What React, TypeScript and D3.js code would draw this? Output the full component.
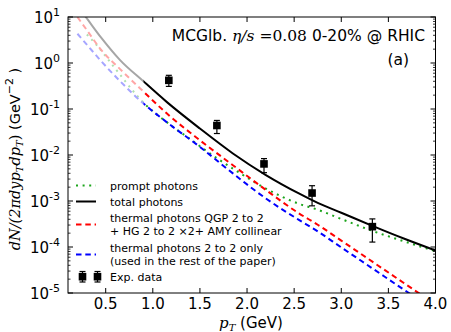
import React from 'react';
import * as d3 from 'd3';

const W = 451;
const H = 332;

// transverse momentum grid (GeV) for the model curves
const gridPT = [0.2, 0.3, 0.45, 0.65, 0.9, 1.15, 1.5, 1.85, 2.2, 2.55, 2.75, 3.0, 3.33, 3.67, 4.0];
const totalPhotons = [17.4, 9.3, 3.6, 1.17, 0.40, 0.141, 0.0376, 0.0108, 0.00367, 0.00146, 9.1e-4, 5.56e-4, 2.88e-4, 1.51e-4, 8.4e-5];
const thermalFull = [10, 5.2, 1.95, 0.745, 0.24, 0.0794, 0.0209, 6.0e-3, 1.74e-3, 5.4e-4, 3.05e-4, 1.38e-4, 4.8e-5, 1.62e-5, 5.6e-6];
const thermal2to2 = [4.32, 2.51, 1.11, 0.408, 0.132, 0.0513, 0.0150, 3.98e-3, 1.135e-3, 3.89e-4, 2.19e-4, 9.8e-5, 3.43e-5, 1.16e-5, 4.1e-6];

const promptPT = [0.3, 0.4, 0.59, 0.9, 1.15, 1.4, 1.62, 1.86, 2.2, 2.55, 2.75, 3.0, 3.33, 3.67, 4.0];
const promptPhotons = [4.17, 2.51, 0.81, 0.138, 0.0513, 0.0219, 0.01035, 4.9e-3, 1.86e-3, 8.7e-4, 6.46e-4, 4.07e-4, 2.24e-4, 1.32e-4, 8.1e-5];

// experimental data
const expPT = [1.17, 1.68, 2.18, 2.69, 3.33];
const expVal = [0.42, 0.0438, 0.0064, 0.00149, 2.77e-4];
const expHi = [0.54, 0.0564, 0.00834, 0.00215, 4.08e-4];
const expLo = [0.31, 0.0293, 0.00413, 7.85e-4, 1.28e-4];

const xTicks = [0.5, 1.0, 1.5, 2.0, 2.5, 3.0, 3.5, 4.0];
const yTickExps = [-5, -4, -3, -2, -1, 0, 1];
const fadeBelow = 0.9;

const L = 68, R = 435.5, T = 17, B = 293;
const SANS = 'DejaVu Sans, sans-serif';
const SERIF = 'DejaVu Serif, serif';
const GREEN = '#1ca51c';
const DOT = '2 4.6';
const DASH = '5.5 3.8';

export default function App() {
  const x = d3.scaleLinear().domain([0.1, 4.0]).range([L, R]);
  const y = d3.scaleLog().domain([1e-5, 10]).range([B, T]);
  const mk = (xs: number[], ys: number[]) =>
    d3.line<number>().x((_, i) => x(xs[i])).y((d) => y(d)).curve(d3.curveMonotoneX)(ys) || '';

  const xf = x(fadeBelow);
  const series = [
    { d: mk(promptPT, promptPhotons), color: GREEN, dash: DOT },
    { d: mk(gridPT, totalPhotons), color: '#000000', dash: '' },
    { d: mk(gridPT, thermalFull), color: '#ff0000', dash: DASH },
    { d: mk(gridPT, thermal2to2), color: '#0000ff', dash: DASH },
  ];

  const minor: number[] = [];
  for (let k = -5; k <= 0; k++) for (let m = 2; m <= 9; m++) minor.push(m * Math.pow(10, k));

  const legendRows = [
    { y: 185.5, color: GREEN, dash: DOT, lines: ['prompt photons'] },
    { y: 201.5, color: '#000000', dash: '', lines: ['total photons'] },
    { y: 224.5, color: '#ff0000', dash: DASH, lines: ['thermal photons QGP 2 to 2', '+ HG 2 to 2 \u00d72+ AMY collinear'] },
    { y: 254.5, color: '#0000ff', dash: DASH, lines: ['thermal photons 2 to 2 only', '(used in the rest of the paper)'] },
  ];

  const errMarker = (cx: number, cy: number, yt: number, yb: number, key: string) => (
    <g key={key}>
      <line x1={cx} x2={cx} y1={yt} y2={yb} stroke="#000" strokeWidth={1.2} />
      <line x1={cx - 3} x2={cx + 3} y1={yt} y2={yt} stroke="#000" strokeWidth={1.2} />
      <line x1={cx - 3} x2={cx + 3} y1={yb} y2={yb} stroke="#000" strokeWidth={1.2} />
      <rect x={cx - 3.8} y={cy - 3.8} width={7.6} height={7.6} fill="#000" />
    </g>
  );

  return (
    <svg width={W} height={H} style={{ position: 'absolute', left: 0, top: 0, background: '#fff' }}>
      <defs>
        <clipPath id="plot"><rect x={L} y={T} width={R - L} height={B - T} /></clipPath>
        <clipPath id="faded"><rect x={L} y={T} width={xf - L} height={B - T} /></clipPath>
        <clipPath id="solid"><rect x={xf} y={T} width={R - xf} height={B - T} /></clipPath>
      </defs>
      <rect x={0} y={0} width={W} height={H} fill="#fff" />

      {/* curves */}
      <g clipPath="url(#plot)">
        <g clipPath="url(#faded)" opacity={0.35}>
          {series.map((s, i) => (
            <path key={'f' + i} d={s.d} fill="none" stroke={s.color} strokeWidth={2} strokeDasharray={s.dash || undefined} />
          ))}
        </g>
        <g clipPath="url(#solid)">
          {series.map((s, i) => (
            <path key={'s' + i} d={s.d} fill="none" stroke={s.color} strokeWidth={2} strokeDasharray={s.dash || undefined} />
          ))}
        </g>
      </g>

      {/* data */}
      {expPT.map((p, i) => errMarker(x(p), y(expVal[i]), y(expHi[i]), y(expLo[i]), 'e' + i))}

      {/* frame */}
      <rect x={L} y={T} width={R - L} height={B - T} fill="none" stroke="#000" strokeWidth={1} />

      {/* x ticks */}
      {xTicks.map((t) => (
        <g key={'xt' + t}>
          <line x1={x(t)} x2={x(t)} y1={B} y2={B - 5} stroke="#000" />
          <line x1={x(t)} x2={x(t)} y1={T} y2={T + 5} stroke="#000" />
          <text x={x(t)} y={309} fontSize={15} fontFamily={SANS} textAnchor="middle">{t.toFixed(1)}</text>
        </g>
      ))}

      {/* y ticks */}
      {yTickExps.map((e) => (
        <g key={'yt' + e}>
          <line x1={L} x2={L + 5} y1={y(Math.pow(10, e))} y2={y(Math.pow(10, e))} stroke="#000" />
          <line x1={R} x2={R - 5} y1={y(Math.pow(10, e))} y2={y(Math.pow(10, e))} stroke="#000" />
          <text x={60} y={y(Math.pow(10, e)) + 6} fontSize={15} fontFamily={SANS} textAnchor="end">
            10<tspan dy={-7} fontSize={11}>{e}</tspan>
          </text>
        </g>
      ))}
      {minor.map((v, i) => (
        <g key={'mn' + i}>
          <line x1={L} x2={L + 2.5} y1={y(v)} y2={y(v)} stroke="#000" strokeWidth={0.8} />
          <line x1={R} x2={R - 2.5} y1={y(v)} y2={y(v)} stroke="#000" strokeWidth={0.8} />
        </g>
      ))}

      {/* axis labels */}
      <text x={251} y={328} fontSize={15} textAnchor="middle">
        <tspan fontFamily={SERIF} fontStyle="italic">p</tspan>
        <tspan fontFamily={SERIF} fontStyle="italic" fontSize={10} dy={3}>T</tspan>
        <tspan fontFamily={SANS} dy={-3}> (GeV)</tspan>
      </text>
      <text transform="translate(20,159) rotate(-90)" fontSize={14.5} textAnchor="middle">
        <tspan fontFamily={SERIF} fontStyle="italic">dN/(2πdyp</tspan>
        <tspan fontFamily={SERIF} fontStyle="italic" fontSize={10} dy={3}>T</tspan>
        <tspan fontFamily={SERIF} fontStyle="italic" dy={-3}>dp</tspan>
        <tspan fontFamily={SERIF} fontStyle="italic" fontSize={10} dy={3}>T</tspan>
        <tspan fontFamily={SERIF} dy={-3}>)</tspan>
        <tspan fontFamily={SANS}> (GeV</tspan>
        <tspan fontFamily={SANS} fontSize={11} dy={-7}>−2</tspan>
        <tspan fontFamily={SANS} dy={7}> )</tspan>
      </text>

      {/* title */}
      <text x={425} y={41} fontSize={15.5} textAnchor="end">
        <tspan fontFamily={SANS}>MCGlb. </tspan>
        <tspan fontFamily={SERIF} fontStyle="italic">η/s</tspan>
        <tspan fontFamily={SERIF}> =0.08</tspan>
        <tspan fontFamily={SANS}> 0-20% @ RHIC</tspan>
      </text>
      <text x={409} y={65} fontSize={15.5} fontFamily={SANS} textAnchor="end">(a)</text>

      {/* legend */}
      {legendRows.map((r, i) => (
        <g key={'lg' + i}>
          <line x1={76} x2={96} y1={r.y} y2={r.y} stroke={r.color} strokeWidth={2} strokeDasharray={r.dash || undefined} />
          {r.lines.map((t, j) => (
            <text key={j} x={110} y={r.y + 4 + (j - (r.lines.length - 1) / 2) * 12.5} fontSize={11} fontFamily={SANS}>{t}</text>
          ))}
        </g>
      ))}
      {errMarker(82.5, 276.7, 271.5, 282, 'lm1')}
      {errMarker(97.5, 276.7, 271.5, 282, 'lm2')}
      <text x={110} y={280.7} fontSize={11} fontFamily={SANS}>Exp. data</text>
    </svg>
  );
}
